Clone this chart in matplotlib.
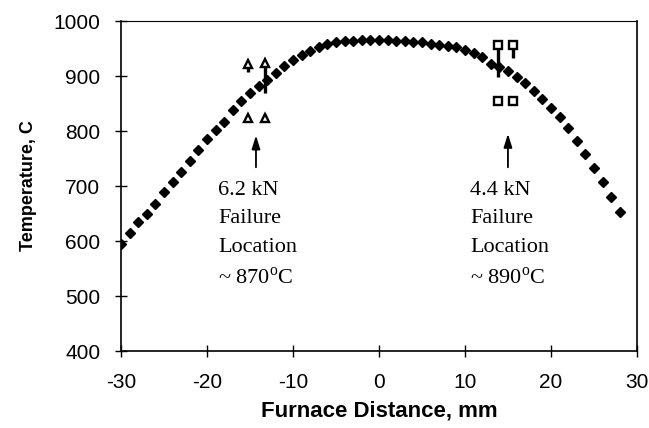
"""
Furnace temperature profile with failure locations for two loads.
"""
import matplotlib
matplotlib.use('Agg')

import numpy as np
import matplotlib.pyplot as plt

plt.rcParams['mathtext.fontset'] = 'custom'
plt.rcParams['mathtext.rm'] = 'Liberation Serif'
plt.rcParams['axes.unicode_minus'] = False

SANS = 'Liberation Sans'
SERIF = 'Liberation Serif'

# furnace profile (1 mm steps)
dist = list(range(-30, 29))
temp = [595, 614, 634, 649, 668, 689, 708, 725, 746, 765,
        786, 802, 817, 838, 854, 869, 881, 893, 905, 918,
        929, 939, 946, 953, 958, 961, 964, 964, 965, 965,
        965, 965, 964, 963, 962, 961, 959, 956, 954, 952,
        948, 942, 934, 922, 916, 910, 899, 887, 872, 858,
        841, 825, 806, 782, 758, 733, 707, 680, 653]

# 6.2 kN thermocouple readings
tri_x = [-15.2, -13.3, -15.2, -13.2]
tri_y = [922, 924, 823, 823]
tri_lo = [14, 55, 0, 0]
tri_hi = [0, 0, 0, 8]

# 4.4 kN thermocouple readings
sq_x = [13.8, 15.6, 13.8, 15.6]
sq_y = [956, 956, 854, 854]
sq_lo = [57, 24, 0, 0]
sq_hi = [0, 0, 9, 0]

fig = plt.figure(figsize=(6.49, 4.28), dpi=100)
ax = fig.add_axes([0.1864, 0.1799, 0.795, 0.771])

ax.plot(dist, temp, linestyle='none', marker='D', ms=5.5,
        color='black', zorder=3)

ax.errorbar(tri_x, tri_y, yerr=[tri_lo, tri_hi], fmt='^', ms=6,
            mfc='white', mec='black', mew=1.7, ecolor='black',
            elinewidth=2.4, capsize=0, zorder=4)
ax.errorbar(sq_x, sq_y, yerr=[sq_lo, sq_hi], fmt='s', ms=6,
            mfc='white', mec='black', mew=1.7, ecolor='black',
            elinewidth=2.4, capsize=0, zorder=4)

ax.annotate('', xy=(-14.3, 797), xytext=(-14.3, 729),
            arrowprops=dict(arrowstyle='-|>,head_length=0.8,head_width=0.25',
                            color='black', lw=1.3))
ax.annotate('', xy=(15.0, 800), xytext=(15.0, 729),
            arrowprops=dict(arrowstyle='-|>,head_length=0.8,head_width=0.25',
                            color='black', lw=1.3))

ax.text(-18.7, 710, '6.2 kN\nFailure\nLocation\n~ 870$^{\\rm o}$C',
        ha='left', va='top', fontsize=16, family=SERIF, linespacing=1.68)
ax.text(10.6, 710, '4.4 kN\nFailure\nLocation\n~ 890$^{\\rm o}$C',
        ha='left', va='top', fontsize=16, family=SERIF, linespacing=1.68)

ax.set_xlim(-30, 30)
ax.set_ylim(400, 1000)
ax.set_xticks(np.arange(-30, 31, 10))
ax.set_yticks(np.arange(400, 1001, 100))
ax.tick_params(direction='inout', length=8, width=1, top=False, right=False,
               labelsize=15)
ax.tick_params(axis='x', pad=12)
ax.tick_params(axis='y', pad=11)
for lab in ax.get_xticklabels() + ax.get_yticklabels():
    lab.set_family(SANS)

for s in ax.spines.values():
    s.set_linewidth(1.2)
ax.spines['top'].set_linewidth(0.8)

ax.set_xlabel('Furnace Distance, mm', fontsize=16, fontweight='bold',
              family=SANS, labelpad=6)
ax.set_ylabel('Temperature, C', fontsize=13, fontweight='bold',
              family=SANS, labelpad=12)

fig.savefig('out.png', dpi=100, facecolor='white')
